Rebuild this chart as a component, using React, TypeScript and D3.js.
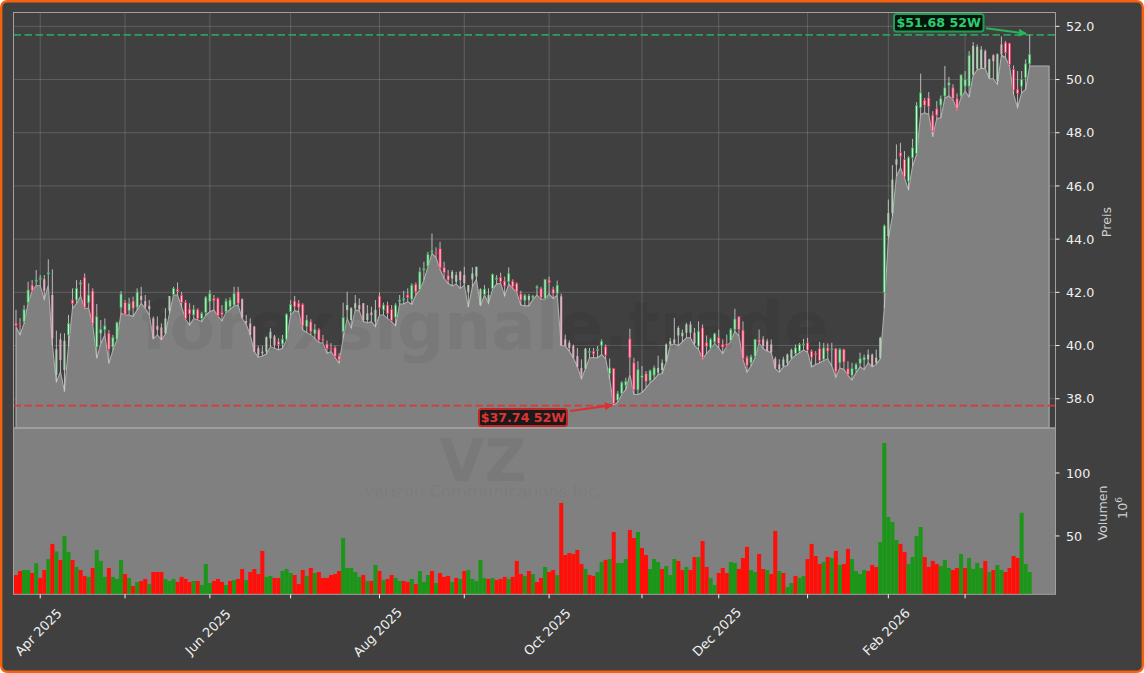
import React from "react";
import * as d3 from "d3";

const highs = [
41.34,41.03,41.52,42.40,42.46,42.84,42.65,42.65,43.24,42.86,
40.56,40.46,40.46,41.15,42.15,42.46,42.46,42.71,42.34,42.15,
41.56,40.96,41.02,40.58,40.40,40.90,42.05,41.71,41.80,41.84,
42.15,42.21,41.90,41.71,41.09,41.09,40.83,41.40,41.86,42.21,
42.37,42.02,41.71,41.59,41.52,41.40,41.27,41.86,42.09,41.90,
41.81,41.52,41.77,41.81,42.21,42.21,41.77,41.15,41.02,40.74,
39.99,39.99,40.34,40.65,40.40,40.27,40.40,41.21,41.71,41.86,
41.71,41.59,41.15,40.99,40.81,40.65,40.40,40.19,40.09,39.99,
39.71,41.61,42.02,41.44,41.90,41.77,41.59,41.52,41.46,41.71,
41.99,41.61,41.65,41.52,41.59,41.90,42.06,42.15,42.34,42.37,
42.94,43.15,43.52,44.21,43.69,43.90,43.15,42.84,42.84,42.77,
42.81,42.96,42.27,42.94,42.96,42.15,42.27,42.15,42.71,42.65,
42.74,42.59,42.94,42.49,42.37,42.06,41.94,41.94,41.90,42.27,
42.21,42.49,42.59,42.21,42.44,41.95,40.41,40.19,40.04,39.91,
39.48,39.91,39.91,39.91,39.98,40.23,40.04,39.51,39.16,38.29,
38.66,38.79,40.63,39.54,39.41,39.23,39.04,39.10,39.25,39.62,
39.48,40.08,40.29,41.04,40.73,40.60,40.85,40.91,40.66,40.91,
40.79,40.38,40.29,40.48,40.60,40.23,40.41,40.66,41.38,41.10,
40.91,39.62,39.66,40.25,40.60,40.35,40.25,40.23,39.58,39.48,
39.58,39.70,39.88,40.04,40.10,40.25,40.29,39.85,39.79,40.14,
40.10,40.08,40.10,39.91,39.91,39.88,39.41,39.35,39.35,39.73,
39.66,39.85,39.70,39.85,40.33,44.55,45.49,46.78,47.56,47.62,
47.31,47.12,47.77,49.15,50.22,49.31,49.53,48.81,49.19,49.40,
50.51,50.10,49.82,49.48,50.19,50.32,51.07,51.41,51.32,51.26,
51.13,50.78,50.95,50.98,51.62,51.45,51.38,50.53,50.32,50.32,
50.76,51.68];

const bodyTops = [
40.84,40.74,41.36,42.09,42.27,42.46,42.54,42.49,42.74,41.90,
39.86,40.23,40.18,40.83,41.71,42.15,42.36,42.56,41.90,42.05,
41.09,40.61,40.74,40.46,40.31,40.86,41.94,41.62,41.59,41.67,
42.01,41.86,41.67,41.49,41.02,40.74,40.68,41.02,41.86,42.15,
42.11,41.89,41.62,41.36,41.36,41.34,41.21,41.81,41.96,41.77,
41.77,41.25,41.67,41.71,41.96,42.02,41.74,40.92,40.83,40.71,
39.90,39.77,40.31,40.52,40.34,40.14,40.24,41.17,41.55,41.67,
41.59,41.55,40.96,40.89,40.61,40.59,40.24,40.06,39.90,39.92,
39.61,41.06,41.52,41.40,41.59,41.52,41.59,41.21,41.24,41.34,
41.86,41.52,41.52,41.36,41.52,41.71,41.76,41.90,42.27,42.30,
42.77,42.90,43.42,43.56,43.50,43.65,42.94,42.64,42.77,42.65,
42.77,42.65,42.27,42.71,42.96,42.12,42.12,41.90,42.67,42.54,
42.56,42.42,42.71,42.42,42.34,41.94,41.89,41.86,41.86,42.21,
42.15,42.49,42.46,42.12,42.27,41.85,40.23,40.10,39.98,39.60,
39.16,39.88,39.78,39.78,39.85,40.15,39.95,39.16,39.14,38.19,
38.60,38.66,40.25,39.35,39.10,38.88,38.95,39.05,39.16,39.16,
39.35,40.04,40.16,40.23,40.66,40.48,40.79,40.79,40.48,40.54,
40.66,40.10,40.23,40.44,40.30,40.05,40.06,40.60,41.00,41.08,
40.58,39.54,39.58,40.23,40.21,40.23,40.16,40.04,39.51,39.29,
39.48,39.66,39.83,39.91,40.04,40.06,40.10,39.78,39.70,39.88,
39.91,39.91,39.88,39.88,39.85,39.85,39.14,39.14,39.29,39.51,
39.55,39.66,39.66,39.54,40.29,44.50,44.98,46.24,47.00,47.24,
46.99,47.06,47.43,49.02,49.50,49.21,49.31,48.66,48.90,49.29,
49.69,49.88,49.69,49.28,50.17,50.00,50.91,51.26,51.23,51.13,
51.07,50.76,50.91,50.95,51.32,51.38,51.35,50.38,49.63,50.00,
50.59,50.95];

const bodyBottoms = [
40.75,40.71,40.90,41.61,42.06,42.41,42.49,42.06,42.69,40.27,
38.90,39.46,39.08,40.40,41.58,41.71,42.31,41.44,41.61,40.83,
39.94,40.46,40.59,39.86,39.94,40.24,41.42,41.17,41.31,41.40,
41.44,41.71,41.46,41.37,40.27,40.59,40.24,40.46,41.31,41.92,
42.03,41.62,41.02,41.19,41.15,41.02,41.02,41.24,41.65,41.69,
41.12,41.16,41.27,41.46,41.52,41.59,41.05,40.87,40.40,39.77,
39.65,39.71,39.77,40.27,40.02,40.04,40.06,40.24,41.27,41.46,
41.44,40.74,40.71,40.52,40.44,40.21,40.19,39.89,39.86,39.59,
39.46,40.52,41.34,40.96,41.40,41.36,40.96,40.96,41.15,40.90,
41.42,41.34,41.21,40.94,41.06,41.65,41.71,41.80,41.74,42.02,
42.11,42.84,42.99,43.51,43.46,42.92,42.74,42.46,42.52,42.40,
42.46,42.34,42.02,42.49,42.59,41.52,41.92,41.71,42.15,42.49,
42.40,42.24,42.40,42.21,42.02,41.71,41.69,41.71,41.79,42.16,
41.80,41.77,42.36,41.96,41.96,40.00,40.00,39.91,39.54,39.20,
38.91,39.13,39.74,39.69,39.81,40.01,39.64,38.94,37.83,37.95,
38.20,38.51,39.54,38.33,38.33,38.79,38.65,38.68,38.88,38.98,
39.08,39.41,40.04,40.10,40.38,40.35,40.48,40.48,40.08,39.98,
39.54,39.98,39.91,40.13,40.08,39.94,39.99,40.18,40.60,40.60,
39.50,39.25,39.35,39.58,40.13,39.98,39.79,39.75,39.16,39.10,
39.23,39.35,39.54,39.70,39.79,40.03,39.83,39.56,39.65,39.44,
39.48,39.79,39.84,39.03,39.35,39.38,38.91,38.88,39.10,39.33,
39.46,39.48,39.23,39.35,39.54,42.00,44.11,44.98,46.80,47.12,
46.34,46.18,47.06,47.22,48.94,49.04,48.98,48.06,48.66,49.04,
49.38,49.79,49.29,48.90,49.38,49.75,49.75,50.19,50.41,50.44,
50.44,50.07,50.69,49.94,50.95,51.01,50.57,49.60,49.48,49.75,
50.07,50.59];

const lows = [
40.71,40.40,40.83,41.59,42.06,42.25,42.25,41.73,42.27,40.02,
38.62,39.02,38.27,39.96,41.40,41.58,41.86,41.40,41.40,40.77,
39.52,40.08,40.40,39.33,39.83,40.21,41.21,41.15,41.15,41.09,
41.34,41.58,41.40,41.15,40.25,40.40,40.21,40.43,41.21,41.90,
41.90,41.46,40.98,40.77,41.02,40.96,40.90,41.15,41.27,41.34,
41.11,40.92,41.24,41.36,41.49,41.52,41.02,40.80,40.40,39.77,
39.56,39.61,39.68,39.96,39.90,39.84,39.90,40.21,41.15,41.31,
41.27,40.59,40.49,40.40,40.27,40.11,40.09,39.71,39.77,39.55,
39.34,40.27,41.02,40.65,41.34,41.31,40.90,40.86,40.90,40.71,
41.15,41.15,41.02,40.90,40.74,41.56,41.56,41.65,41.55,41.90,
42.09,42.46,42.96,43.46,43.31,42.86,42.52,42.34,42.24,42.31,
42.15,42.27,41.44,42.21,42.49,41.49,41.90,41.58,42.12,42.31,
42.34,41.86,42.31,42.15,41.99,41.52,41.49,41.49,41.74,41.90,
41.74,41.74,41.94,41.77,41.90,40.00,39.98,39.79,39.54,39.20,
38.75,39.13,39.54,39.54,39.54,39.66,39.50,38.73,37.74,37.88,
38.16,38.35,38.91,38.16,38.16,38.23,38.41,38.60,38.73,38.91,
38.95,39.38,40.01,40.06,40.00,40.14,40.29,40.29,40.00,39.85,
39.50,39.70,39.88,40.08,39.91,39.70,39.98,40.15,40.54,40.35,
39.48,39.00,39.23,39.54,40.10,39.88,39.79,39.73,39.13,39.00,
39.20,39.25,39.50,39.63,39.73,39.83,39.75,39.20,39.29,39.35,
39.44,39.50,39.23,38.81,39.16,39.10,38.88,38.70,38.98,39.20,
39.10,39.35,39.20,39.29,39.50,41.41,44.02,44.86,46.37,46.68,
46.30,45.84,46.74,47.18,48.69,48.75,48.69,47.85,48.54,48.56,
49.30,49.38,49.25,48.87,49.31,49.56,49.35,50.15,50.36,50.42,
50.42,50.03,50.03,49.82,50.92,50.82,50.51,49.44,48.94,49.50,
49.63,50.51];

const candleDirections = [
"rrggrggrgr","grggrggrgr","gggrgggrgr","grrrrrrggg","rrrrgrgggr",
"rrgggrrrrr","rgggrrgggr","rrgrgrrrrr","rggggrrgrg","rgrrgggrgr",
"ggggrrrrgg","rrgggggggg","rrgrrrgggg","rgrrgrrrrr","rggrggrgrg",
"ggrrggrggg","ggggggggrg","rrggrrrggr","rrggrrrrrr","ggggggrrrr",
"grgrgrrggg","ggrggggggr","rggggrrrrg","ggrrgggggg","rgrgrrrrrg","gg",
].join("");

const volumes = [
19,22.2,23,23,20.6,28.4,16.7,23,31.7,43.7,
37.7,31,50,37.3,31,25.4,23,18.3,17.5,24.6,
38.9,30.2,17.5,24.6,17.5,15.9,31,19.8,16.7,10.3,
13.5,14.3,15.9,11.9,21.4,21.4,21.4,15.9,14.3,15.9,
13.5,17.5,15.9,13.5,14.3,14.3,11.1,27.8,12.7,14.3,
15.9,13.5,11.1,14.3,15.1,15.9,23.8,15.1,21.4,23.8,
19.8,38.1,17.5,18.3,16.7,16.7,22.2,23.8,20.6,19,
11.9,23,18.3,24.6,20.6,21.4,16.7,16.7,19,19.8,
22.2,48.4,24.6,24.6,21.4,17.5,19,14.3,14.3,27,
22.2,15.1,15.9,19,16.7,14.3,14.3,13.5,15.9,11.9,
22.2,13.5,19,22.2,12.7,20.6,17.5,18.3,13.5,16.7,
15.9,22.2,23,15.9,14.3,31,16.7,15.9,16.7,15.1,
15.9,17.5,15.9,17.5,30.2,19.8,18.3,22.2,19.8,13.5,
16.7,25.4,21.4,23,19,76.2,34.9,36.5,35.7,38.9,
27.8,23.8,19,18.3,21.4,29.4,31,31.7,53.2,28.6,
28.6,31.7,54.8,48.4,53.2,40.5,34.9,23.8,31.7,29.4,
23.8,26.2,19,31.7,30.2,23,25.4,23,33.3,33.3,
46,25.4,16.7,11.1,20.6,24.6,20.6,29.4,28.6,23.8,
32.5,41.3,23,21.4,35.7,23.8,23,19.8,54,22.2,
20.6,9.5,12.7,18.3,16.7,18.3,31.7,43.7,34.1,27.8,
29.4,33.3,32.5,38.1,27,27.8,39.7,31.7,22.2,19.8,
23,22.2,27,25.4,45.2,123.8,65.1,61.1,46.8,43.7,
37.3,27.8,33.3,50,57.1,33.3,25.4,30.2,27.8,26.2,
31,24.6,23,24.6,35.7,24.6,32.5,23.8,28.6,24.6,
30.2,21.4,23,27,23,21.4,24.6,34.1,32.5,68.3,
27.8,21.4];

const volumeDirections = [
"rrggrgrrgr","grggrgrrgr","gggrgggrgr","grrgrrrggg","rrrrgrgggr",
"rrgrgrrgrr","rrggrrgggr","rrgrgrrrrr","rgggggrgrg","rgrrggrrgr",
"gggrgrrrgr","grgggggrgr","rrgrrrgrgr","rgrrgrrrrr","rgrrggrgrg",
"ggrrgrrggg","rgggrrgrrg","rrggrrrggr","rrggrrgrrg","rggrggrrrr",
"grgrgrrggg","grrrgggggr","rggggrrrrg","ggrrgrgggg","rgrggrrrrg","gg",
].join("");

const priceTicks = [52, 50, 48, 46, 44, 42, 40, 38];
const volumeTicks = [100, 50];
const monthTickIndices = [6, 27, 48, 68, 90, 111, 132, 155, 174, 196, 216, 235];
const monthTickLabels = ["Apr 2025", "", "Jun 2025", "", "Aug 2025", "", "Oct 2025", "", "Dec 2025", "", "Feb 2026", ""];
const fadedSpans = [[7,7],[9,12],[31,38],[56,64],[82,89],[108,115],[117,117],[127,127],[135,141],[159,168],[185,192],[211,214],[216,218],[237,244]];
const high52 = 51.68;
const low52 = 37.74;
const high52Label = "$51.68 52W";
const low52Label = "$37.74 52W";
const watermark = "forexsignale.trade";
const ticker = "VZ";
const companyName = "Verizon Communications Inc.";

const W = 1144, H = 673;
const L = 13.5, R = 1055.5, TOP = 12.5, SPLIT = 428, BOTTOM = 594.3;
const FONT = "'DejaVu Sans', sans-serif";
const indices = d3.range(highs.length);
const isFaded = (i: number) => fadedSpans.some(([a, b]) => i >= a && i <= b);

export default function App() {
  const x = d3.scaleLinear().domain([0, 251]).range([16, 1029.7]);
  const yP = d3.scaleLinear().domain([36.9, 52.52]).range([SPLIT, TOP]);
  const yV = d3.scaleLinear().domain([3.7, 134.9]).range([BOTTOM, SPLIT + 1]);
  const areaEnd = 255.8;
  const areaPoints: [number, number][] = [
    ...lows.map((v, i) => [i, v] as [number, number]),
    [areaEnd, lows[lows.length - 1]],
  ];
  const areaD = d3.area<[number, number]>().x((d) => x(d[0])).y0(SPLIT).y1((d) => yP(d[1]))(areaPoints) as string;
  const pitch = x(1) - x(0);
  return (
    <svg width={W} height={H} viewBox={`0 0 ${W} ${H}`} style={{ position: "absolute", left: 0, top: 0, background: "#fff" }} fontFamily={FONT}>
      <defs>
        <marker id="headG" viewBox="0 0 10 10" refX="9" refY="5" markerWidth="11" markerHeight="8" markerUnits="userSpaceOnUse" orient="auto">
          <path d="M0,0 L10,5 L0,10 Z" fill="#27b45f" />
        </marker>
        <marker id="headR" viewBox="0 0 10 10" refX="9" refY="5" markerWidth="11" markerHeight="8" markerUnits="userSpaceOnUse" orient="auto">
          <path d="M0,0 L10,5 L0,10 Z" fill="#dc2f2f" />
        </marker>
      </defs>
      <rect x={1.2} y={1.2} width={W - 2.4} height={H - 2.4} rx={6} fill="#404040" stroke="#f5620f" strokeWidth={2.4} />

      {/* price panel grid */}
      <g stroke="#fff" strokeOpacity={0.16} strokeWidth={1}>
        {priceTicks.map((t) => <line key={t} x1={L} x2={R} y1={yP(t)} y2={yP(t)} />)}
        {monthTickIndices.map((t) => <line key={t} x1={x(t)} x2={x(t)} y1={TOP} y2={SPLIT} />)}
      </g>

      {/* volume panel background */}
      <rect x={L} y={SPLIT} width={R - L} height={BOTTOM - SPLIT} fill="#808080" />

      {/* low-price area */}
      <path d={areaD} fill="#808080" stroke="none" />
      <path d={areaD} fill="none" stroke="#adadad" strokeWidth={1.1} />

      {/* watermarks */}
      <g textAnchor="middle" fill="#000" fillOpacity={0.055}>
        <text x={485} y={349} fontSize={66} fontWeight="bold">{watermark}</text>
        <text x={483} y={481} fontSize={58} fontWeight="bold">{ticker}</text>
        <text x={483} y={497} fontSize={16.4}>{companyName}</text>
      </g>

      {/* 52-week lines */}
      <line x1={L} x2={R} y1={yP(high52)} y2={yP(high52)} stroke="#2bb060" strokeOpacity={0.85} strokeWidth={1.6} strokeDasharray="7.5 3.5" />
      <line x1={L} x2={R} y1={yP(low52)} y2={yP(low52)} stroke="#dd3535" strokeOpacity={0.95} strokeWidth={1.6} strokeDasharray="7.5 3.5" />

      {/* candles */}
      <g>
        {indices.map((i) => (
          <line key={i} x1={x(i)} x2={x(i)} y1={yP(highs[i])} y2={yP(lows[i])} stroke="#cfcfcf" strokeOpacity={0.85} strokeWidth={1} />
        ))}
        {indices.map((i) => {
          const up = candleDirections[i] === "g";
          const faded = isFaded(i);
          const top = yP(bodyTops[i]);
          const h = Math.max(yP(bodyBottoms[i]) - top, 1);
          return faded ? (
            <rect key={i} x={x(i) - 1} y={top} width={2} height={h} fill={up ? "#b0d0b4" : "#dfb0c0"} />
          ) : (
            <rect key={i} x={x(i) - 1} y={top} width={2} height={h} fill={up ? "#d0f5d0" : "#ffd0da"} stroke={up ? "#2fa855" : "#f5305f"} strokeWidth={0.8} />
          );
        })}
      </g>

      {/* volumes */}
      <g>
        {indices.map((i) => (
          <rect key={i} x={x(i) - pitch / 2} y={yV(volumes[i])} width={pitch} height={BOTTOM - yV(volumes[i])} fill={volumeDirections[i] === "g" ? "#1b9618" : "#ff0f08"} />
        ))}
      </g>

      {/* frame */}
      <rect x={L} y={TOP} width={R - L} height={BOTTOM - TOP} fill="none" stroke="#a0a0a0" strokeWidth={1} />
      <line x1={L} x2={R} y1={SPLIT} y2={SPLIT} stroke="#a0a0a0" strokeWidth={1.4} />

      {/* annotations */}
      <line x1={986} y1={28.3} x2={1026} y2={33.6} stroke="#27b45f" strokeWidth={2} markerEnd="url(#headG)" />
      <rect x={894} y={14} width={89.5} height={17.5} rx={2.5} fill="#06150b" stroke="#1f9d55" strokeWidth={2} />
      <text x={938.7} y={27} textAnchor="middle" fontSize={12.6} fontWeight="bold" fill="#2ecc71">{high52Label}</text>

      <line x1={570} y1={411} x2={612} y2={405.3} stroke="#dc2f2f" strokeWidth={2} markerEnd="url(#headR)" />
      <rect x={479} y={409} width={88} height={17} rx={2.5} fill="#1a1a1a" stroke="#c02828" strokeWidth={2} />
      <text x={523} y={421.5} textAnchor="middle" fontSize={12.6} fontWeight="bold" fill="#e03535">{low52Label}</text>

      {/* right axes */}
      <g fill="#f0f0f0" fontSize={12.7}>
        {priceTicks.map((t) => (
          <g key={t}>
            <line x1={R} x2={R + 4} y1={yP(t)} y2={yP(t)} stroke="#f0f0f0" />
            <text x={1066} y={yP(t)} dy="0.36em">{t.toFixed(1)}</text>
          </g>
        ))}
        {volumeTicks.map((t) => (
          <g key={t}>
            <line x1={R} x2={R + 4} y1={yV(t)} y2={yV(t)} stroke="#f0f0f0" />
            <text x={1066} y={yV(t)} dy="0.36em">{t}</text>
          </g>
        ))}
      </g>
      <g fill="#cfcfcf" fontSize={12.7} textAnchor="middle">
        <text transform="translate(1111,222) rotate(-90)">Preis</text>
        <text transform="translate(1107,513) rotate(-90)">Volumen</text>
        <text transform="translate(1127,508) rotate(-90)">10<tspan fontSize={9} dy={-5}>6</tspan></text>
      </g>

      {/* bottom axis */}
      <g fill="#f0f0f0" fontSize={13}>
        {monthTickIndices.map((t, k) => (
          <g key={t}>
            <line x1={x(t)} x2={x(t)} y1={BOTTOM} y2={BOTTOM + 4} stroke="#f0f0f0" />
            {monthTickLabels[k] && (
              <text transform={`translate(${x(t) - 2},632) rotate(-45)`} textAnchor="middle" dy="0.36em">{monthTickLabels[k]}</text>
            )}
          </g>
        ))}
      </g>
    </svg>
  );
}
